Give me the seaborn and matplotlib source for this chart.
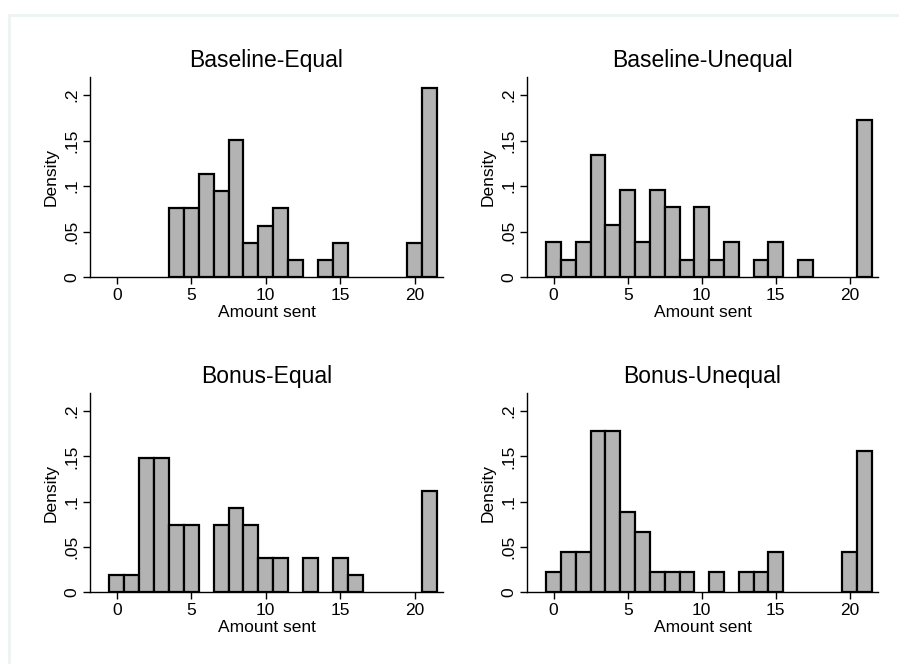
import matplotlib
matplotlib.use("Agg")
import matplotlib.pyplot as plt
import seaborn as sns
import pandas as pd
from matplotlib.lines import Line2D

# ---- data (counts per amount sent) ----
titles = ["Baseline-Equal", "Baseline-Unequal", "Bonus-Equal", "Bonus-Unequal"]

be_amount = [4, 5, 6, 7, 8, 9, 10, 11, 12, 14, 15, 20, 21]
be_count = [4, 4, 6, 5, 8, 2, 3, 4, 1, 1, 2, 2, 11]

bu_amount = [0, 1, 2, 3, 4, 5, 6, 7, 8, 9, 10, 11, 12, 14, 15, 17, 21]
bu_count = [2, 1, 2, 7, 3, 5, 2, 5, 4, 1, 4, 1, 2, 1, 2, 1, 9]

ne_amount = [0, 1, 2, 3, 4, 5, 7, 8, 9, 10, 11, 13, 15, 16, 21]
ne_count = [1, 1, 8, 8, 4, 4, 4, 5, 4, 2, 2, 2, 2, 1, 6]

nu_amount = [0, 1, 2, 3, 4, 5, 6, 7, 8, 9, 11, 13, 14, 15, 20, 21]
nu_count = [1, 2, 2, 8, 8, 4, 3, 1, 1, 1, 1, 1, 1, 2, 2, 7]

xticks = [0, 5, 10, 15, 20]
xtick_labels = ["0", "5", "10", "15", "20"]
yticks = [0, 0.05, 0.1, 0.15, 0.2]
ytick_labels = ["0", ".05", ".1", ".15", ".2"]

panels = [(be_amount, be_count), (bu_amount, bu_count),
          (ne_amount, ne_count), (nu_amount, nu_count)]

sns.set_theme(style="white")
plt.rcParams["font.family"] = ["Liberation Sans", "DejaVu Sans"]
plt.rcParams["text.color"] = "black"
plt.rcParams["axes.labelcolor"] = "black"
plt.rcParams["xtick.color"] = "black"
plt.rcParams["ytick.color"] = "black"

fig = plt.figure(figsize=(8.99, 6.64), dpi=100)
W, H = 899, 664

boxes = [
    (90, 77, 443, 277),
    (527, 77, 878, 277),
    (90, 393, 443, 592),
    (527, 393, 878, 592),
]

for (title, (amt, cnt), (x0, y0, x1, y1)) in zip(titles, panels, boxes):
    ax = fig.add_axes([x0 / W, 1 - y1 / H, (x1 - x0) / W, (y1 - y0) / H])
    df = pd.DataFrame({"amount": amt, "count": cnt})
    sns.histplot(data=df, x="amount", weights="count", discrete=True,
                 stat="density", shrink=1.0, color="#b3b3b3",
                 edgecolor="black", linewidth=1.6, alpha=1.0, ax=ax)
    # empty bins are not drawn in the reference
    for p in list(ax.patches):
        if p.get_height() <= 0:
            p.remove()
    ax.set_xlim(-1.8, 21.9)
    ax.set_ylim(0, 0.22)
    ax.set_xticks(xticks)
    ax.set_xticklabels(xtick_labels, fontsize=12.5)
    ax.set_yticks(yticks)
    ax.set_yticklabels(ytick_labels, fontsize=12.5, rotation=90, va="center")
    ax.tick_params(axis="both", direction="out", length=5, width=1,
                   color="black", pad=3, left=True, bottom=True)
    for s in ["top", "right"]:
        ax.spines[s].set_visible(False)
    for s in ["left", "bottom"]:
        ax.spines[s].set_color("black")
        ax.spines[s].set_linewidth(1.0)
    ax.set_xlabel("Amount sent", fontsize=12.5, labelpad=1)
    ax.set_ylabel("Density", fontsize=12.5, labelpad=4)
    ax.set_title(title, fontsize=16.5, pad=7)
    ax.patch.set_alpha(0)

# light outer graph-region border (top and left)
fig.add_artist(Line2D([9 / W, 1], [1 - 15 / H, 1 - 15 / H], color="#edf2f2",
                      linewidth=2, transform=fig.transFigure))
fig.add_artist(Line2D([9 / W, 9 / W], [0, 1 - 15 / H], color="#edf2f2",
                      linewidth=2, transform=fig.transFigure))

fig.savefig("out.png", dpi=100, facecolor="white")
